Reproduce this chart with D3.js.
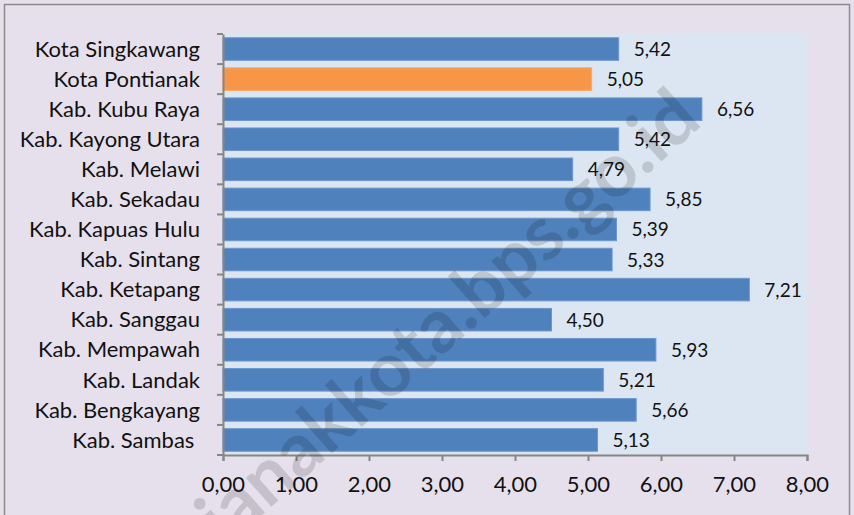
<!DOCTYPE html>
<html>
<head>
<meta charset="utf-8">
<script src="https://cdn.jsdelivr.net/npm/d3@7"></script>
<style>
  body { margin: 0; background: #e6e0ec; }
  text { font-family: Lato, "Open Sans", sans-serif; fill: #111; }
</style>
</head>
<body>
<script>
// data
const regions = ["Kota Singkawang", "Kota Pontianak", "Kab. Kubu Raya", "Kab. Kayong Utara",
  "Kab. Melawi", "Kab. Sekadau", "Kab. Kapuas Hulu", "Kab. Sintang", "Kab. Ketapang",
  "Kab. Sanggau", "Kab. Mempawah", "Kab. Landak", "Kab. Bengkayang", "Kab. Sambas "];
const values = [5.42, 5.05, 6.56, 5.42, 4.79, 5.85, 5.39, 5.33, 7.21, 4.50, 5.93, 5.21, 5.66, 5.13];
const highlight = "Kota Pontianak";
const xTicks = [0, 1, 2, 3, 4, 5, 6, 7, 8];

const width = 854, height = 515;
const marginLeft = 223, marginRight = 47, marginTop = 34, marginBottom = 60;

const fmt = v => v.toFixed(2).replace(".", ",");

const svg = d3.select("body").append("svg")
    .attr("width", width)
    .attr("height", height);

// outer frame
svg.append("rect")
    .attr("x", 4.5).attr("y", 4.5)
    .attr("width", width - 9).attr("height", height + 20)
    .attr("fill", "#e6e0ec")
    .attr("stroke", "#8c8c8c")
    .attr("stroke-width", 1.5);

const x = d3.scaleLinear()
    .domain([0, 8])
    .range([marginLeft, width - marginRight]);

const y = d3.scaleBand()
    .domain(regions)
    .range([marginTop, height - marginBottom])
    .paddingInner(0.25)
    .paddingOuter(0.125);

// plot area
svg.append("rect")
    .attr("x", x(0)).attr("y", marginTop)
    .attr("width", x(8) - x(0))
    .attr("height", height - marginBottom - marginTop)
    .attr("fill", "#dce6f2");

// bars
svg.selectAll(".bar")
    .data(regions)
    .join("rect")
    .attr("class", "bar")
    .attr("x", x(0))
    .attr("y", d => y(d))
    .attr("width", (d, i) => x(values[i]) - x(0))
    .attr("height", y.bandwidth())
    .attr("fill", d => d === highlight ? "#f79646" : "#4f81bd")
    .attr("stroke", d => d === highlight ? "#f9a867" : "#6b97cc")
    .attr("stroke-width", 1);

// value labels
svg.selectAll(".label")
    .data(regions)
    .join("text")
    .attr("class", "label")
    .attr("x", (d, i) => x(values[i]) + 15)
    .attr("y", d => y(d) + y.bandwidth() / 2 + 7)
    .attr("font-size", 19)
    .text((d, i) => fmt(values[i]));

// y axis
svg.append("g")
    .attr("transform", `translate(${x(0)},0)`)
    .call(d3.axisLeft(y).tickSize(0).tickPadding(23))
    .call(g => g.select(".domain").attr("stroke", "#868686").attr("stroke-width", 2))
    .call(g => g.selectAll(".tick text")
        .attr("font-size", 22)
        .attr("fill", "#111")
        .style("white-space", "pre")
        .attr("dy", "0.35em"))
    .call(g => g.selectAll(".bound")
        .data(d3.range(regions.length + 1))
        .join("line")
        .attr("class", "bound")
        .attr("x1", -6).attr("x2", 0)
        .attr("y1", i => marginTop + i * y.step())
        .attr("y2", i => marginTop + i * y.step())
        .attr("stroke", "#868686")
        .attr("stroke-width", 2));

// x axis
svg.append("g")
    .attr("transform", `translate(0,${height - marginBottom})`)
    .call(d3.axisBottom(x).tickValues(xTicks).tickFormat(fmt).tickSizeOuter(0).tickSize(6).tickPadding(15))
    .call(g => g.select(".domain").attr("stroke", "#868686").attr("stroke-width", 2))
    .call(g => g.selectAll(".tick line").attr("stroke", "#868686").attr("stroke-width", 2))
    .call(g => g.selectAll(".tick text").attr("font-size", 22).attr("fill", "#111"));

// watermark
svg.append("text")
    .attr("transform", "translate(704,124) rotate(-41.5)")
    .attr("text-anchor", "end")
    .attr("font-size", 75)
    .attr("font-weight", "bold")
    .style("fill", "#000")
    .style("fill-opacity", 0.14)
    .text("pontianakkota.bps.go.id");
</script>
</body>
</html>
